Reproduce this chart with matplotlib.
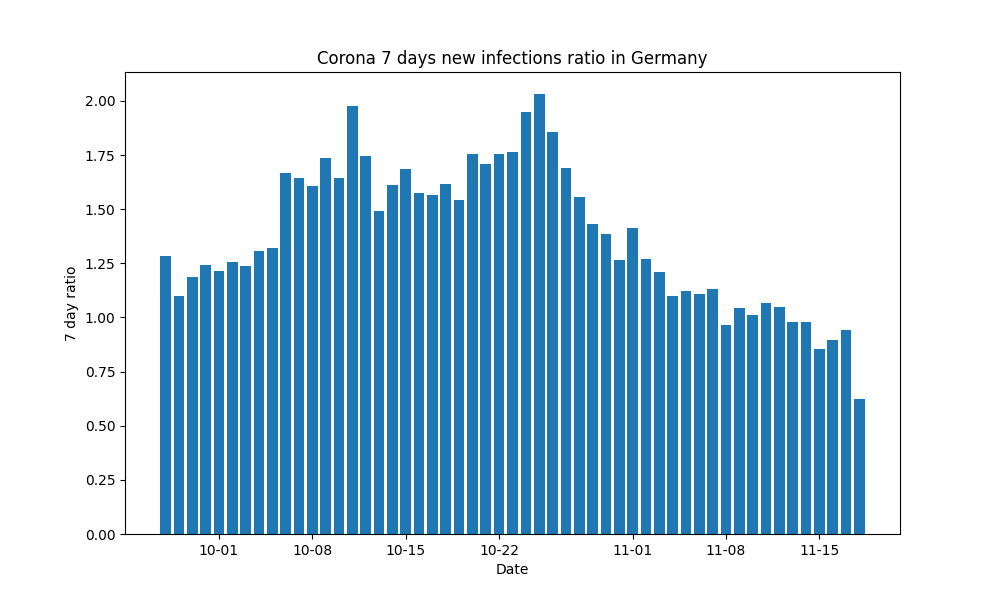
import numpy as np
import pandas as pd
import matplotlib
matplotlib.use('Agg')
import matplotlib.pyplot as plt
import matplotlib.dates as mdates

START = '2020-09-27'
RATIO = [1.284, 1.099, 1.187, 1.242, 1.215, 1.256, 1.238, 1.307, 1.321,
         1.667, 1.644, 1.607, 1.737, 1.644, 1.977, 1.746, 1.492, 1.612,
         1.686, 1.575, 1.566, 1.617, 1.543, 1.755, 1.709, 1.755, 1.764,
         1.949, 2.032, 1.857, 1.690, 1.557, 1.432, 1.386, 1.266, 1.413,
         1.270, 1.210, 1.099, 1.122, 1.109, 1.132, 0.965, 1.044, 1.012,
         1.067, 1.048, 0.979, 0.979, 0.855, 0.896, 0.942, 0.624]

dates = pd.date_range(START, periods=len(RATIO), freq='D')

fig, ax = plt.subplots(figsize=(10, 6), dpi=100)
ax.bar(dates, RATIO)
ax.xaxis.set_major_locator(mdates.DayLocator(bymonthday=[1, 8, 15, 22]))
ax.xaxis.set_major_formatter(mdates.DateFormatter('%m-%d'))
ax.set_title('Corona 7 days new infections ratio in Germany')
ax.set_xlabel('Date')
ax.set_ylabel('7 day ratio')

fig.savefig('out.png')
